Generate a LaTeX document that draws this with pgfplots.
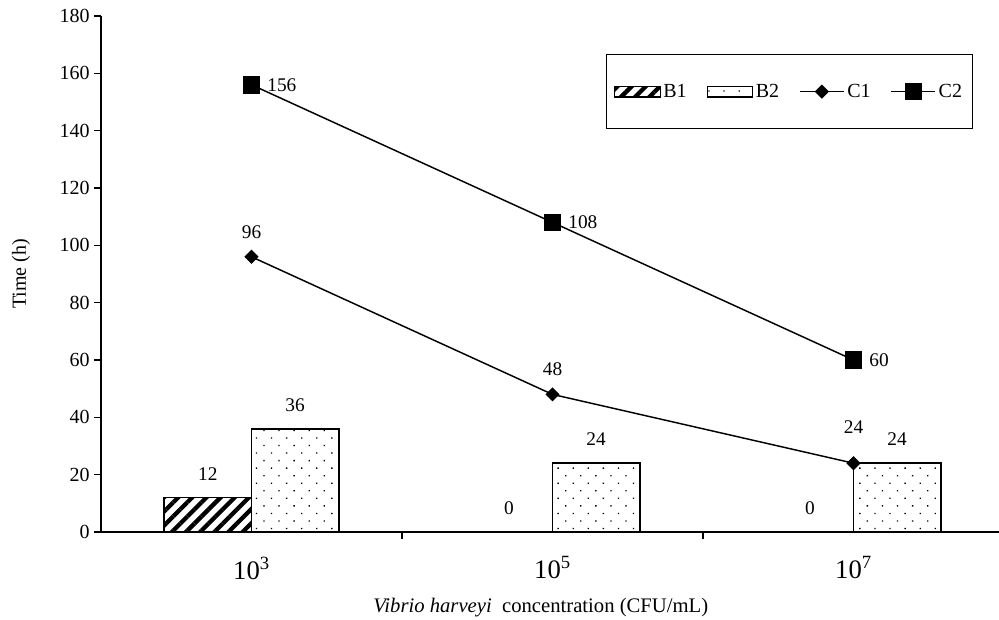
\documentclass[border=0pt]{standalone}
\usepackage{fontspec}
\setmainfont{Liberation Serif}
\usepackage{pgfplots}
\usepackage{pgfplotstable}
\pgfplotsset{compat=1.18}
\usetikzlibrary{patterns.meta}
\pgfplotsset{
  barleg/.style={legend image code/.code={\draw[##1, line width=0.8pt] (0pt,-4pt) rectangle (34pt,4pt);}},
  lineleg/.style={legend image code/.code={\draw[##1, mark repeat=2, mark phase=2] plot coordinates {(0pt,0pt) (16.5pt,0pt) (33pt,0pt)};}},
}
% B1 and B2 bars sit side by side in each category (category centre 0,1,2)
\pgfplotstableread{
x      y
-0.145 12
0.855  0
1.855  0
}\Bone
\pgfplotstableread{
x      y
0.145  36
1.145  24
2.145  24
}\Btwo
\pgfplotstableread{
x y  dy
0 96 14
1 48 14
2 24 22
}\Cone
\pgfplotstableread{
x y
0 156
1 108
2 60
}\Ctwo

\begin{document}
\begin{tikzpicture}
\useasboundingbox (0,0) rectangle (749.25pt,464.25pt);
\begin{axis}[
  at={(75.75pt,65.25pt)}, anchor=south west,
  scale only axis, width=677.25pt, height=387pt,
  xmin=-0.5, xmax=2.5, ymin=0, ymax=180,
  axis x line*=bottom, axis y line*=left,
  axis line style={line width=0.9pt, black},
  /pgf/number format/assume math mode=true,
  tick align=outside, major tick length=5pt,
  tick style={line width=0.8pt, black},
  xtick={0.5,1.5,2.5}, xticklabels={,,},
  extra x ticks={0,1,2},
  extra x tick labels={10\textsuperscript{3},10\textsuperscript{5},10\textsuperscript{7}},
  extra x tick style={major tick length=0pt,
     tick label style={font=\fontsize{20}{24}\selectfont, yshift=-15pt}},
  ytick={0,20,...,180},
  yticklabel style={font=\fontsize{15}{17}\selectfont},
  ylabel={Time (h)},
  ylabel style={at={(axis description cs:-0.0886,0.5)}, anchor=center, font=\fontsize{15}{17}\selectfont},
  xlabel={\textit{Vibrio harveyi}\ \ concentration (CFU/mL)},
  xlabel style={at={(axis description cs:0.487,-0.1473)}, anchor=center, font=\fontsize{15.5}{17}\selectfont},
  legend columns=4,
  legend style={at={(axis description cs:0.559,0.926)}, anchor=north west,
    draw=black, line width=0.8pt, inner xsep=6pt, inner ysep=20pt,
    font=\fontsize{15}{17}\selectfont,
    /tikz/every even column/.append style={column sep=13pt}},
]
\addplot[ybar, bar width=0.29, bar shift=0pt, draw=black, line width=1.1pt,
  pattern={Lines[angle=45,distance=7.5pt,line width=3.2pt]},
  nodes near coords,
  every node near coord/.append style={font=\fontsize{14.5}{16}\selectfont, anchor=base, yshift=13pt, text=black},
  barleg]
  table[x=x, y=y] {\Bone};
\addlegendentry{B1}
\addplot[ybar, bar width=0.29, bar shift=0pt, draw=black, line width=1.1pt,
  pattern={Dots[distance=8pt,angle=45,radius=0.7pt]}, pattern color=black,
  nodes near coords,
  every node near coord/.append style={font=\fontsize{14.5}{16}\selectfont, anchor=base, yshift=13pt, text=black},
  barleg]
  table[x=x, y=y] {\Btwo};
\addlegendentry{B2}
\addplot[black, line width=1.1pt, mark=square*, mark size=3.2pt, mark options={rotate=45, solid},
  nodes near coords,
  visualization depends on={\thisrow{dy} \as \labdy},
  every node near coord/.append style={font=\fontsize{14.5}{16}\selectfont, anchor=base, yshift=\labdy pt, text=black},
  lineleg]
  table[x=x, y=y] {\Cone};
\addlegendentry{C1}
\addplot[black, line width=1.1pt, mark=square*, mark size=6pt, mark options={solid},
  nodes near coords,
  every node near coord/.append style={font=\fontsize{14.5}{16}\selectfont, anchor=west, xshift=8pt, text=black},
  lineleg]
  table[x=x, y=y] {\Ctwo};
\addlegendentry{C2}
\end{axis}
\end{tikzpicture}
\end{document}
